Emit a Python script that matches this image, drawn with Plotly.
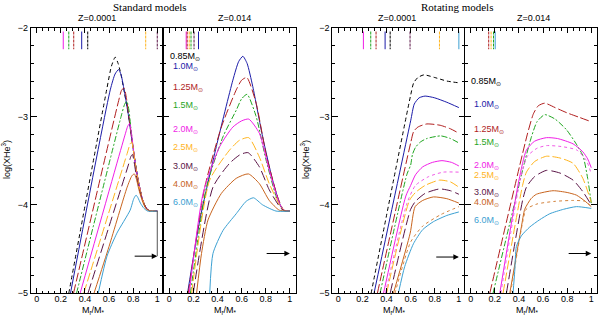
import plotly.graph_objects as go

# ---------------- data ----------------
MASSES = ["0.85", "1.0", "1.25", "1.5", "2.0", "2.5", "3.0", "4.0", "6.0"]

# Standard models, Z=0.0001
s1_085 = [(0.266,-5.0),(0.58,-2.70),(0.62,-2.43),(0.651,-2.33),(0.675,-2.40),(0.698,-2.52),(0.73,-2.75),(0.76,-2.98),(0.79,-3.27),(0.82,-3.55),(0.85,-3.78),(0.88,-3.95),(0.91,-4.04),(0.94,-4.07),(1.0,-4.07)]
s1_100 = [(0.28,-5.0),(0.61,-2.70),(0.65,-2.52),(0.679,-2.47),(0.70,-2.53),(0.73,-2.74),(0.76,-2.98),(0.79,-3.27),(0.82,-3.55),(0.85,-3.78),(0.88,-3.95),(0.91,-4.04),(0.94,-4.07),(1.0,-4.07)]
s1_125 = [(0.305,-5.0),(0.68,-2.82),(0.705,-2.70),(0.725,-2.68),(0.745,-2.80),(0.765,-3.01),(0.79,-3.27),(0.82,-3.55),(0.85,-3.78),(0.88,-3.95),(0.91,-4.04),(0.94,-4.07),(1.0,-4.07)]
s1_150 = [(0.33,-5.0),(0.70,-3.00),(0.73,-2.86),(0.748,-2.83),(0.765,-2.93),(0.78,-3.12),(0.80,-3.36),(0.82,-3.55),(0.85,-3.78),(0.88,-3.95),(0.91,-4.04),(0.94,-4.07),(1.0,-4.07)]
s1_200 = [(0.36,-5.0),(0.73,-3.22),(0.755,-3.11),(0.77,-3.08),(0.785,-3.18),(0.80,-3.35),(0.82,-3.56),(0.85,-3.78),(0.88,-3.95),(0.91,-4.04),(0.94,-4.07),(1.0,-4.07)]
s1_250 = [(0.39,-5.0),(0.75,-3.42),(0.775,-3.31),(0.789,-3.29),(0.80,-3.37),(0.82,-3.56),(0.85,-3.79),(0.88,-3.95),(0.91,-4.04),(0.94,-4.07),(1.0,-4.07)]
s1_300 = [(0.425,-5.0),(0.76,-3.55),(0.782,-3.45),(0.794,-3.43),(0.806,-3.50),(0.825,-3.66),(0.85,-3.82),(0.88,-3.96),(0.91,-4.04),(0.94,-4.07),(1.0,-4.07)]
s1_400 = [(0.475,-5.0),(0.60,-4.47),(0.75,-3.80),(0.79,-3.67),(0.81,-3.65),(0.825,-3.70),(0.85,-3.84),(0.88,-3.97),(0.91,-4.05),(0.94,-4.07),(1.0,-4.07)]
s1_600 = [(0.51,-5.0),(0.583,-4.58),(0.665,-4.32),(0.775,-4.06),(0.805,-3.93),(0.824,-3.89),(0.84,-3.92),(0.86,-3.98),(0.89,-4.04),(0.92,-4.07),(1.0,-4.07)]
s1_edge = [(1.0,-4.07),(1.0,-4.58)]

# Standard models, Z=0.014
s2_100 = [(0.151,-5.0),(0.253,-4.17),(0.39,-3.34),(0.527,-2.59),(0.575,-2.38),(0.61,-2.32),(0.645,-2.40),(0.692,-2.66),(0.774,-3.23),(0.857,-3.72),(0.926,-4.02),(0.96,-4.07),(1.0,-4.07)]
s2_125 = [(0.157,-5.0),(0.294,-3.80),(0.432,-3.12),(0.555,-2.70),(0.60,-2.59),(0.643,-2.56),(0.72,-2.85),(0.802,-3.42),(0.898,-3.91),(0.95,-4.06),(1.0,-4.07)]
s2_150 = [(0.175,-5.0),(0.308,-3.80),(0.445,-3.23),(0.555,-2.93),(0.60,-2.80),(0.645,-2.75),(0.72,-3.0),(0.802,-3.49),(0.898,-3.95),(0.95,-4.06),(1.0,-4.07)]
s2_200 = [(0.165,-5.0),(0.28,-3.87),(0.418,-3.34),(0.527,-3.12),(0.60,-3.05),(0.659,-3.03),(0.747,-3.19),(0.829,-3.61),(0.912,-3.98),(0.95,-4.06),(1.0,-4.07)]
s2_250 = [(0.185,-5.0),(0.335,-3.72),(0.5,-3.38),(0.582,-3.27),(0.659,-3.24),(0.747,-3.46),(0.829,-3.76),(0.926,-4.03),(0.96,-4.07),(1.0,-4.07)]
s2_300 = [(0.198,-5.0),(0.362,-3.80),(0.5,-3.53),(0.59,-3.43),(0.654,-3.41),(0.747,-3.57),(0.829,-3.83),(0.926,-4.04),(0.96,-4.07),(1.0,-4.07)]
s2_400 = [(0.226,-5.0),(0.267,-4.55),(0.321,-4.17),(0.432,-3.87),(0.555,-3.70),(0.656,-3.65),(0.747,-3.76),(0.829,-3.95),(0.912,-4.06),(1.0,-4.07)]
s2_600 = [(0.335,-5.0),(0.362,-4.55),(0.445,-4.29),(0.555,-4.10),(0.637,-3.96),(0.698,-3.92),(0.774,-4.0),(0.885,-4.07),(1.0,-4.07)]

# Rotating models, Z=0.0001
r1_085 = [(0.272,-5.0),(0.60,-2.76),(0.625,-2.62),(0.66,-2.56),(0.71,-2.53),(0.80,-2.56),(0.90,-2.60),(1.0,-2.62)]
r1_100 = [(0.296,-5.0),(0.60,-3.05),(0.63,-2.86),(0.67,-2.79),(0.72,-2.77),(0.80,-2.79),(0.90,-2.84),(1.0,-2.90)]
r1_125 = [(0.324,-5.0),(0.60,-3.30),(0.625,-3.17),(0.66,-3.12),(0.734,-3.085),(0.845,-3.10),(0.93,-3.14),(1.0,-3.19)]
r1_150 = [(0.346,-5.0),(0.57,-3.65),(0.60,-3.55),(0.615,-3.43),(0.64,-3.35),(0.68,-3.29),(0.734,-3.25),(0.85,-3.22),(0.93,-3.25),(1.0,-3.30)]
r1_200 = [(0.375,-5.0),(0.56,-3.90),(0.60,-3.78),(0.64,-3.66),(0.70,-3.57),(0.78,-3.52),(0.86,-3.50),(0.94,-3.52),(1.0,-3.56)]
r1_200b = [(0.39,-5.0),(0.57,-3.98),(0.64,-3.78),(0.75,-3.68),(0.87,-3.63),(1.0,-3.63)]
r1_250 = [(0.40,-5.0),(0.59,-3.95),(0.64,-3.86),(0.72,-3.78),(0.84,-3.72),(0.93,-3.74),(1.0,-3.80)]
r1_300 = [(0.43,-5.0),(0.60,-4.05),(0.64,-3.96),(0.72,-3.87),(0.84,-3.82),(0.93,-3.84),(1.0,-3.88)]
r1_400 = [(0.457,-5.0),(0.596,-4.32),(0.637,-4.02),(0.70,-3.95),(0.789,-3.91),(0.90,-3.93),(1.0,-3.98)]
r1_400b = [(0.47,-5.0),(0.60,-4.42),(0.70,-4.24),(0.85,-4.11),(1.0,-4.02)]
r1_600 = [(0.498,-5.0),(0.55,-4.70),(0.623,-4.44),(0.70,-4.28),(0.789,-4.19),(0.90,-4.12),(1.0,-4.08)]

# Rotating models, Z=0.014
r2_125 = [(0.158,-5.0),(0.47,-3.20),(0.52,-2.97),(0.56,-2.88),(0.614,-2.85),(0.70,-2.90),(0.80,-2.96),(0.90,-3.01),(1.0,-3.06)]
r2_150 = [(0.185,-5.0),(0.45,-3.50),(0.504,-3.23),(0.55,-3.06),(0.614,-2.98),(0.70,-3.03),(0.794,-3.15),(0.87,-3.30),(0.932,-3.45),(0.97,-3.70),(1.0,-3.98)]
r2_200 = [(0.241,-5.0),(0.40,-3.72),(0.462,-3.38),(0.53,-3.28),(0.628,-3.24),(0.72,-3.25),(0.849,-3.31),(0.93,-3.40),(0.97,-3.48),(1.0,-3.58)]
r2_200b = [(0.25,-5.0),(0.41,-3.72),(0.47,-3.45),(0.55,-3.36),(0.628,-3.33),(0.75,-3.34),(0.88,-3.38),(0.96,-3.50),(1.0,-3.65)]
r2_250 = [(0.268,-5.0),(0.43,-3.78),(0.462,-3.63),(0.53,-3.51),(0.628,-3.45),(0.74,-3.47),(0.849,-3.53),(0.93,-3.70),(1.0,-3.97)]
r2_300 = [(0.296,-5.0),(0.43,-3.95),(0.462,-3.80),(0.53,-3.68),(0.628,-3.61),(0.74,-3.64),(0.849,-3.72),(0.93,-3.85),(1.0,-4.0)]
r2_400 = [(0.324,-5.0),(0.42,-4.25),(0.448,-4.05),(0.50,-3.93),(0.545,-3.88),(0.683,-3.84),(0.80,-3.86),(0.877,-3.89),(0.95,-3.96),(1.0,-4.02)]
r2_400b = [(0.33,-5.0),(0.43,-4.20),(0.46,-4.05),(0.55,-3.99),(0.70,-3.96),(0.85,-3.95),(0.95,-3.96),(1.0,-4.02)]
r2_600 = [(0.351,-5.0),(0.365,-4.75),(0.379,-4.47),(0.42,-4.35),(0.49,-4.25),(0.57,-4.17),(0.656,-4.10),(0.77,-4.05),(0.877,-4.02),(1.0,-4.04)]

# short vertical marks near the top (mass, x position)
s1_marks = [("2.0",0.22),("1.5",0.266),("1.25",0.307),("1.0",0.373),("0.85",0.423),("2.5",0.904),("3.0",1.0)]
s2_marks = [("2.0",0.14),("1.25",0.148),("2.5",0.165),("1.5",0.18),("3.0",0.205),("1.0",0.242)]
r1_marks = [("2.0",0.208),("1.5",0.269),("1.25",0.313),("1.0",0.388),("0.85",0.43),("3.0",0.595),("2.5",0.839),("6.0",1.0)]
r2_marks = [("1.25",0.149),("2.5",0.169),("1.5",0.189),("6.0",0.203)]
MARK_Y = [-2.04, -2.24]

# label positions (y) in the Z=0.014 panels
s2_label_y = [-2.32, -2.43, -2.67, -2.88, -3.15, -3.35, -3.57, -3.77, -3.97]
r2_label_y = [-2.61, -2.87, -3.15, -3.30, -3.55, -3.67, -3.86, -3.97, -4.18]

# arrows (tail x, head x, y)
arrows = [(0.80, 1.0, -4.58), (0.795, 1.0, -4.55), (0.80, 1.0, -4.59), (0.80, 1.0, -4.55)]

XTICKS = [0, 0.2, 0.4, 0.6, 0.8, 1.0]
XTICKTEXT = ["0", "0.2", "0.4", "0.6", "0.8", "1"]
YTICKS = [-5, -4, -3, -2]

# ---------------- styles ----------------
STYLE = {
    "0.85": ("#000000", "4px,3px"),
    "1.0": ("#1c1ca8", "solid"),
    "1.25": ("#b01e1e", "9px,3px"),
    "1.5": ("#1fa51f", "6px,2px,2px,2px"),
    "2.0": ("#f01ee6", "solid"),
    "2.5": ("#ffb41e", "9px,3px"),
    "3.0": ("#5a1446", "10px,4px"),
    "4.0": ("#c8641e", "solid"),
    "6.0": ("#3ca0d2", "solid"),
    "2.0b": ("#f05ae6", "dot"),
    "4.0b": ("#d2823c", "dot"),
}

panels = [
    ("x", "y", [("0.85", s1_085), ("1.0", s1_100), ("1.25", s1_125), ("1.5", s1_150), ("2.0", s1_200),
                ("2.5", s1_250), ("3.0", s1_300), ("4.0", s1_400), ("6.0", s1_600)], s1_marks),
    ("x2", "y2", [("1.0", s2_100), ("1.25", s2_125), ("1.5", s2_150), ("2.0", s2_200),
                  ("2.5", s2_250), ("3.0", s2_300), ("4.0", s2_400), ("6.0", s2_600)], s2_marks),
    ("x3", "y3", [("0.85", r1_085), ("1.0", r1_100), ("1.25", r1_125), ("1.5", r1_150), ("2.0", r1_200),
                  ("2.0b", r1_200b), ("2.5", r1_250), ("3.0", r1_300), ("4.0", r1_400), ("4.0b", r1_400b),
                  ("6.0", r1_600)], r1_marks),
    ("x4", "y4", [("1.25", r2_125), ("1.5", r2_150), ("2.0", r2_200), ("2.0b", r2_200b), ("2.5", r2_250),
                  ("3.0", r2_300), ("4.0", r2_400), ("4.0b", r2_400b), ("6.0", r2_600)], r2_marks),
]

fig = go.Figure()
for xa, ya, curves, marks in panels:
    for key, pts in curves:
        col, dash = STYLE[key]
        fig.add_trace(go.Scatter(x=[p[0] for p in pts], y=[p[1] for p in pts], mode="lines",
                                 line=dict(color=col, width=1, dash=dash, shape="spline", smoothing=0.6),
                                 xaxis=xa, yaxis=ya, showlegend=False, hoverinfo="skip"))
    for key, xv in marks:
        col, dash = STYLE[key]
        fig.add_trace(go.Scatter(x=[xv, xv], y=MARK_Y, mode="lines",
                                 line=dict(color=col, width=1, dash="3px,1px" if dash != "solid" else "solid"),
                                 xaxis=xa, yaxis=ya, showlegend=False, hoverinfo="skip"))

fig.add_trace(go.Scatter(x=[p[0] for p in s1_edge], y=[p[1] for p in s1_edge], mode="lines",
                         line=dict(color="#555555", width=1), xaxis="x", yaxis="y",
                         showlegend=False, hoverinfo="skip"))

W, H = 600, 318
left_px = [30.7, 163.3, 332.3, 464.7]
pw = 132.6
ydom = [1 - 293.3 / H, 1 - 28 / H]

layout = dict(width=W, height=H, margin=dict(l=0, r=0, t=0, b=0, autoexpand=False),
              paper_bgcolor="white", plot_bgcolor="white",
              font=dict(family="Liberation Sans", color="black", size=9), showlegend=False)

for i, lp in enumerate(left_px):
    n = "" if i == 0 else str(i + 1)
    layout["xaxis" + n] = dict(domain=[lp / W, (lp + pw) / W], range=[-0.05, 1.05], anchor="y" + n,
                               showline=True, linecolor="black", linewidth=1, mirror="ticks",
                               ticks="inside", ticklen=5, tickcolor="black", tickwidth=1,
                               tickvals=XTICKS, ticktext=XTICKTEXT, tickfont=dict(size=9),
                               ticklabelstandoff=-3, automargin=False,
                               minor=dict(dtick=0.05, tick0=0, ticks="inside", ticklen=2.5, tickcolor="black"),
                               showgrid=False, zeroline=False, fixedrange=True)
    layout["yaxis" + n] = dict(domain=ydom, range=[-5, -2], anchor="x" + n,
                               showline=True, linecolor="black", linewidth=1, mirror="ticks",
                               ticks="inside", ticklen=6, tickcolor="black", tickwidth=1,
                               tickvals=YTICKS, showticklabels=(i in (0, 2)), tickfont=dict(size=9),
                               automargin=False,
                               minor=dict(dtick=0.2, tick0=-5, ticks="inside", ticklen=3, tickcolor="black"),
                               showgrid=False, zeroline=False, fixedrange=True)
fig.update_layout(**layout)

ann = []
C = dict(xanchor="center", yanchor="middle", showarrow=False)
# titles
ann.append(dict(text="Standard models", x=150 / W, y=1 - 7 / H, xref="paper", yref="paper",
                font=dict(family="Liberation Serif", size=11), **C))
ann.append(dict(text="Rotating models", x=457 / W, y=1 - 7 / H, xref="paper", yref="paper",
                font=dict(family="Liberation Serif", size=11), **C))
for xc, t in [(97, "Z=0.0001"), (234, "Z=0.014"), (397, "Z=0.0001"), (533, "Z=0.014")]:
    ann.append(dict(text=t, x=xc / W, y=1 - 18 / H, xref="paper", yref="paper", font=dict(size=9), **C))
# y titles
for xc in (6, 305):
    ann.append(dict(text="log(XHe<sup>3</sup>)", x=xc / W, y=1 - 160 / H, xref="paper", yref="paper",
                    textangle=-90, font=dict(size=9), **C))
# x titles
for i in range(4):
    n = "" if i == 0 else str(i + 1)
    ann.append(dict(text="M<sub>r</sub>/M<sub>*</sub>", x=0.47, y=1 - 310 / H, xref="x" + n, yref="paper",
                    font=dict(size=9), **C))
# mass labels
for xa, ya, ys in [("x2", "y2", s2_label_y), ("x4", "y4", r2_label_y)]:
    for m, yv in zip(MASSES, ys):
        ann.append(dict(text=m + "M<sub>⊙</sub>", x=-0.015 if m == "0.85" else 0.012, y=yv, xref=xa, yref=ya,
                        xanchor="left", yanchor="middle", showarrow=False,
                        font=dict(size=9, color=STYLE[m][0])))
# arrows
for i, (xt, xh, yv) in enumerate(arrows):
    n = "" if i == 0 else str(i + 1)
    ann.append(dict(x=xh, y=yv, ax=xt, ay=yv, xref="x" + n, yref="y" + n, axref="x" + n, ayref="y" + n,
                    showarrow=True, arrowhead=2, arrowsize=1.1, arrowwidth=1, arrowcolor="black", text=""))
fig.update_layout(annotations=ann)

fig.write_html("out.html", config={"displayModeBar": False},
               post_script="document.body.style.margin='0';document.body.style.padding='0';")
